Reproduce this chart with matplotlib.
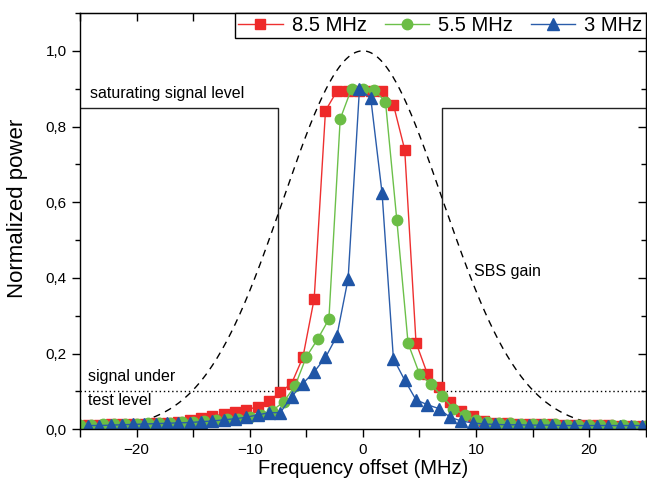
import matplotlib
matplotlib.use("Agg")
import matplotlib.pyplot as plt
import numpy as np
from matplotlib.ticker import MultipleLocator, FuncFormatter

plt.rcParams['font.family'] = ['Liberation Sans', 'DejaVu Sans']
plt.rcParams['axes.unicode_minus'] = True

# frequency grids (MHz)
freq_85 = np.arange(-24, 26) - 0.3
freq_55 = np.arange(-25, 26).astype(float)
freq_3 = np.arange(-24, 26) - 0.3

power_85 = [0.012, 0.012, 0.013, 0.013, 0.014, 0.015, 0.016, 0.018, 0.020, 0.024,
            0.030, 0.035, 0.040, 0.045, 0.051, 0.060, 0.075, 0.098, 0.121, 0.190,
            0.345, 0.842, 0.893, 0.893, 0.895, 0.895, 0.895, 0.858, 0.739, 0.229,
            0.147, 0.112, 0.073, 0.048, 0.035, 0.022, 0.018, 0.016, 0.015, 0.014,
            0.013, 0.013, 0.012, 0.012, 0.011, 0.011, 0.011, 0.010, 0.010, 0.010]

power_55 = [0.012, 0.012, 0.013, 0.013, 0.014, 0.015, 0.016, 0.017, 0.018, 0.019,
            0.020, 0.022, 0.024, 0.026, 0.028, 0.032, 0.038, 0.049, 0.073, 0.114,
            0.191, 0.238, 0.291, 0.820, 0.900, 0.900, 0.896, 0.866, 0.554, 0.227,
            0.147, 0.119, 0.088, 0.055, 0.038, 0.025, 0.020, 0.018, 0.016, 0.015,
            0.014, 0.013, 0.013, 0.012, 0.012, 0.012, 0.011, 0.011, 0.011, 0.010,
            0.010]

power_3 = [0.010, 0.010, 0.011, 0.012, 0.013, 0.014, 0.015, 0.016, 0.017, 0.018,
           0.020, 0.022, 0.025, 0.028, 0.032, 0.038, 0.044, 0.044, 0.086, 0.121,
           0.152, 0.190, 0.246, 0.398, 0.899, 0.875, 0.624, 0.187, 0.130, 0.078,
           0.065, 0.055, 0.032, 0.022, 0.017, 0.014, 0.013, 0.012, 0.012, 0.011,
           0.011, 0.011, 0.010, 0.010, 0.010, 0.010, 0.010, 0.010, 0.010, 0.010]

# SBS gain profile (normalized Gaussian) and threshold levels
gain_sigma = 7.05
saturation_level = 0.85
test_level = 0.1
edge_left, edge_right = -7.5, 7.0

fig = plt.figure(figsize=(6.47, 4.92), dpi=100)
ax = fig.add_axes([0.1236, 0.1274, 0.8744, 0.8462])

f = np.linspace(-25, 25, 500)
ax.plot(f, np.exp(-f**2 / (2 * gain_sigma**2)), color='black', lw=1.0,
        dashes=(5, 4))

# saturating signal level / test level outline
ax.plot([-25, edge_left, edge_left], [saturation_level, saturation_level, test_level],
        color='#222222', lw=1.0)
ax.plot([25, edge_right, edge_right], [saturation_level, saturation_level, test_level],
        color='#222222', lw=1.0)
ax.plot([-25, edge_left], [test_level, test_level], color='black', lw=1.0, ls=(0, (1, 2)))
ax.plot([edge_right, 25], [test_level, test_level], color='black', lw=1.0, ls=(0, (1, 2)))

ax.plot(freq_85, power_85, color='#EE3030', lw=1.0, marker='s', ms=7,
        mfc='#EE2A2A', mec='#EE2A2A', label='8.5 MHz')
ax.plot(freq_55, power_55, color='#6CC04A', lw=1.0, marker='o', ms=7.5,
        mfc='#6BBD45', mec='#6BBD45', label='5.5 MHz')
ax.plot(freq_3, power_3, color='#2A5CAA', lw=1.0, marker='^', ms=8,
        mfc='#1F55A6', mec='#1F55A6', label='3 MHz')

ax.text(-24.1, 0.875, 'saturating signal level', fontsize=11.5, va='baseline')
ax.text(-24.3, 0.128, 'signal under', fontsize=11.5, va='baseline')
ax.text(-24.3, 0.064, 'test level', fontsize=11.5, va='baseline')
ax.text(9.85, 0.405, 'SBS gain', fontsize=11.5, va='baseline')

ax.set_xlim(-25, 25)
ax.set_ylim(0, 1.1)
ax.xaxis.set_major_locator(MultipleLocator(10))
ax.xaxis.set_minor_locator(MultipleLocator(5))
ax.yaxis.set_major_locator(MultipleLocator(0.2))
ax.yaxis.set_minor_locator(MultipleLocator(0.1))
ax.yaxis.set_major_formatter(FuncFormatter(lambda v, p: f'{v:.1f}'.replace('.', ',')))

ax.tick_params(which='both', direction='out', top=False, right=False, labelsize=11, width=1.0)
ax.tick_params(which='major', length=6)
ax.tick_params(axis='x', which='minor', length=6)
ax.tick_params(axis='y', which='minor', length=3.5)

# inward ticks along top and right
top = ax.secondary_xaxis('top')
top.xaxis.set_major_locator(MultipleLocator(5))
top.tick_params(direction='in', length=6, labeltop=False, width=1.0)
right = ax.secondary_yaxis('right')
right.yaxis.set_major_locator(MultipleLocator(0.2))
right.yaxis.set_minor_locator(MultipleLocator(0.1))
right.tick_params(which='major', direction='in', length=6, labelright=False, width=1.0)
right.tick_params(which='minor', direction='in', length=3.5, width=1.0)

for s in ax.spines.values():
    s.set_linewidth(1.0)

ax.set_xlabel('Frequency offset (MHz)', fontsize=14.5, labelpad=2)
ax.set_ylabel('Normalized power', fontsize=16)
ax.yaxis.set_label_coords(-0.092, 0.53)

leg = ax.legend(loc='upper right', ncol=3, fontsize=14.5, frameon=True, fancybox=False,
                borderaxespad=0, handlelength=2.2, columnspacing=0.9, handletextpad=0.45,
                borderpad=0.15)
leg.get_frame().set_edgecolor('black')
leg.get_frame().set_linewidth(1.0)
leg.get_frame().set_alpha(1.0)

fig.savefig('out.png', dpi=100)
